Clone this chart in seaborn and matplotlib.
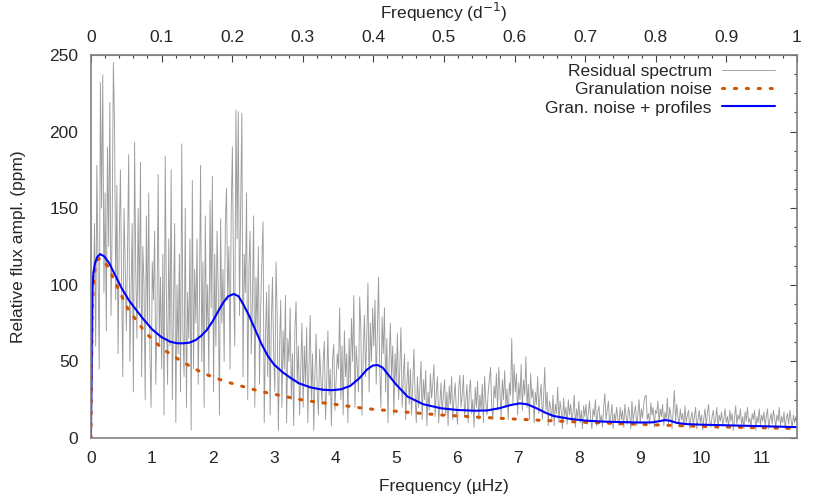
import numpy as np
import pandas as pd
import matplotlib
matplotlib.use('Agg')
import matplotlib.pyplot as plt
from matplotlib.ticker import MultipleLocator, FixedLocator, FuncFormatter
import seaborn as sns

# frequency range of the plot (1 d^-1 = 11.574 uHz)
f_max = 11.574

# residual amplitude spectrum (ppm), evenly spaced from 0 to f_max
residual = [
    0, 30, 85, 140, 60, 178, 110, 45, 232, 150, 237, 95, 160, 70, 190, 125, 219, 80, 140, 245, 204, 90, 165, 55, 130, 175, 100, 40, 150, 115,
    70, 120, 185, 50, 95, 140, 30, 193, 110, 65, 150, 85, 180, 40, 125, 100, 25, 145, 75, 160, 55, 20, 115, 90, 135, 35, 80, 172, 60, 105,
    45, 120, 15, 184, 90, 35, 130, 60, 175, 25, 80, 140, 10, 100, 55, 120, 30, 192, 70, 40, 150, 20, 95, 65, 130, 5, 168, 45, 110, 75,
    130, 35, 90, 178, 50, 115, 20, 145, 70, 100, 40, 155, 85, 171, 30, 120, 60, 135, 95, 15, 143, 75, 110, 50, 140, 163, 90, 125, 45, 150,
    190, 100, 60, 214, 130, 213, 80, 150, 212, 40, 120, 95, 160, 25, 110, 135, 55, 90, 145, 20, 105, 70, 125, 35, 85, 115, 141, 10, 65, 95,
    40, 100, 15, 75, 105, 55, 30, 115, 80, 5, 60, 90, 20, 70, 45, 93, 10, 65, 50, 85, 25, 55, 8, 70, 89, 35, 60, 15, 45, 75,
    20, 60, 35, 72, 10, 48, 80, 25, 55, 5, 42, 68, 30, 15, 58, 40, 22, 50, 63, 12, 35, 70, 28, 45, 8, 52, 61, 18, 38, 55,
    45, 85, 25, 60, 15, 70, 40, 55, 10, 65, 35, 78, 50, 93, 20, 60, 45, 30, 92, 70, 15, 55, 80, 40, 65, 101, 30, 75, 50, 85,
    60, 90, 35, 70, 105, 45, 20, 79, 55, 85, 30, 65, 10, 50, 75, 40, 60, 15, 55, 35, 68, 25, 45, 72, 20, 40, 55, 12, 35, 50,
    22, 45, 15, 35, 58, 28, 10, 40, 20, 32, 50, 12, 38, 25, 44, 8, 30, 18, 42, 26, 35, 48, 14, 30, 40, 10, 22, 36, 16, 28,
    38, 15, 30, 8, 34, 22, 40, 12, 26, 36, 18, 9, 32, 41, 20, 28, 41, 14, 24, 35, 10, 30, 38, 16, 25, 7, 33, 20, 37, 12,
    28, 18, 35, 10, 40, 24, 15, 30, 38, 46, 20, 12, 34, 26, 42, 18, 46, 30, 14, 38, 25, 44, 20, 32, 12, 36, 28, 65, 22, 48,
    30, 42, 15, 36, 25, 48, 18, 38, 28, 53, 20, 35, 12, 42, 26, 32, 10, 30, 22, 40, 16, 28, 35, 12, 26, 46, 18, 30, 8, 24,
    20, 12, 28, 8, 22, 16, 33, 10, 24, 18, 6, 26, 14, 20, 9, 25, 15, 22, 11, 17, 28, 7, 19, 13, 24, 10, 18, 6, 21, 14,
    22, 9, 16, 24, 12, 6, 19, 14, 25, 8, 17, 21, 10, 15, 7, 20, 29, 12, 18, 24, 9, 14, 22, 6, 16, 11, 20, 13, 8, 20,
    12, 18, 7, 22, 14, 9, 20, 16, 6, 24, 11, 17, 21, 8, 15, 25, 10, 19, 13, 22, 27, 28, 12, 16, 9, 23, 15, 20, 7, 18,
    16, 24, 10, 19, 14, 22, 8, 17, 12, 26, 9, 20, 15, 6, 18, 31, 11, 22, 14, 8, 19, 12, 16, 7, 21, 10, 15, 18, 6, 13,
    17, 9, 14, 20, 6, 12, 18, 10, 15, 5, 13, 19, 8, 16, 22, 11, 7, 14, 18, 9, 12, 20, 6, 15, 11, 17, 8, 13, 19, 10,
    14, 7, 18, 11, 16, 5, 13, 21, 9, 15, 12, 19, 8, 14, 6, 17, 11, 20, 10, 13, 7, 16, 12, 18, 5, 14, 10, 19, 8, 15,
    11, 17, 8, 14, 19, 6, 12, 16, 9, 18, 13, 7, 15, 11, 20, 8, 14, 10, 17, 6, 13, 16, 9, 18, 12, 7, 15, 10, 14, 11,
]
residual_freq = np.linspace(0, f_max, len(residual))

# granulation noise model
gran_freq = [0, 0.005, 0.01, 0.02, 0.04, 0.07, 0.12, 0.18, 0.285, 0.45, 0.61, 0.84,
             0.965, 1.18, 1.51, 1.84, 2.18, 2.4, 2.75, 3.14, 3.52, 3.99, 4.53, 5.19,
             5.74, 6.4, 7.03, 8.12, 9.0, 10.1, 11.4, 11.574]
gran_ampl = [0, 25, 50, 80, 100, 112, 117, 117, 111.4, 97, 84, 71.6,
             66, 58, 49.4, 42.2, 37.2, 34.6, 30.7, 27.4, 24.4, 22, 19.1, 16.8,
             15, 13.5, 12.2, 10.2, 8.9, 7.4, 6.3, 6.2]

# granulation noise + Lorentzian profiles
fit_freq = [0, 0.01, 0.02, 0.04, 0.066, 0.1, 0.15, 0.22, 0.3, 0.4, 0.5, 0.62, 0.72,
            0.85, 1.0, 1.15, 1.3, 1.42, 1.52, 1.62, 1.72, 1.81, 1.9, 2.0, 2.09, 2.17,
            2.25, 2.34, 2.42, 2.5, 2.59, 2.7, 2.8, 2.9, 3.0, 3.14, 3.28, 3.41, 3.6,
            3.8, 3.95, 4.1, 4.25, 4.4, 4.52, 4.62, 4.7, 4.78, 4.88, 5.0, 5.19, 5.45,
            5.74, 6.0, 6.29, 6.5, 6.7, 6.88, 7.03, 7.15, 7.3, 7.45, 7.58, 7.85, 8.12,
            8.4, 8.67, 9.0, 9.2, 9.32, 9.41, 9.5, 9.6, 9.75, 10.0, 10.4, 11.0, 11.574]
fit_ampl = [0, 55, 96, 108, 114, 118, 120, 118.5, 114, 106, 98, 90, 84.7,
            78, 71, 66, 62.8, 61.8, 61.8, 62.3, 64, 66.8, 70.5, 76.5, 83, 88.5,
            92.5, 94, 92.5, 87, 80, 70, 61, 53.5, 48, 43, 39, 35.7, 33,
            31.5, 31.2, 31.8, 34, 39, 44.5, 47.3, 47.6, 46, 41, 35, 27, 22,
            19.4, 18.3, 17.8, 18, 19.5, 21.5, 22.6, 22, 19.5, 16.5, 14.4, 12.5, 11.3,
            10.7, 10.4, 10.1, 10.2, 11, 11.7, 11.2, 9.9, 9.1, 8.7, 8.3, 7.7, 7.1]

top_ticks = [0, 0.1, 0.2, 0.3, 0.4, 0.5, 0.6, 0.7, 0.8, 0.9, 1]

df_res = pd.DataFrame({'freq': residual_freq, 'ampl': residual})
df_gran = pd.DataFrame({'freq': gran_freq, 'ampl': gran_ampl})
df_fit = pd.DataFrame({'freq': fit_freq, 'ampl': fit_ampl})

sns.set_style('white')
plt.rcParams['font.family'] = ['Liberation Sans', 'DejaVu Sans']
plt.rcParams['font.size'] = 12.5

fig = plt.figure(figsize=(8.3, 4.98), dpi=100)
ax = fig.add_axes([0.1096, 0.1205, 0.8506, 0.7691])

sns.lineplot(data=df_res, x='freq', y='ampl', ax=ax, color='#9c9c9c', lw=0.65,
             estimator=None, sort=False, label='Residual spectrum')
sns.lineplot(data=df_gran, x='freq', y='ampl', ax=ax, color='#d35400', lw=2.2,
             estimator=None, sort=False, label='Granulation noise',
             linestyle=(0, (0.7, 3.2)), dash_capstyle='round')
sns.lineplot(data=df_fit, x='freq', y='ampl', ax=ax, color='#0000ff', lw=1.5,
             estimator=None, sort=False, label='Gran. noise + profiles')

ax.set_xlim(0, f_max)
ax.set_ylim(0, 250)
ax.xaxis.set_major_locator(MultipleLocator(1))
ax.xaxis.set_minor_locator(MultipleLocator(0.2))
ax.yaxis.set_major_locator(MultipleLocator(50))
ax.yaxis.set_minor_locator(MultipleLocator(12.5))

for s in ax.spines.values():
    s.set_color('#808080')
    s.set_linewidth(1.2)
ax.tick_params(which='both', direction='in', color='#404040', right=True, top=False,
               labelsize=12.5)
ax.tick_params(which='major', length=4.8, width=0.8)
ax.tick_params(which='minor', length=2.4, width=0.8)
ax.tick_params(axis='x', which='major', pad=9.5)
ax.tick_params(axis='y', which='major', pad=9)
ax.set_xlabel('Frequency (µHz)', labelpad=9)
ax.set_ylabel('Relative flux ampl. (ppm)', labelpad=17)

# top axis in cycles per day
top = ax.secondary_xaxis('top', functions=(lambda f: f / f_max, lambda d: d * f_max))
top.xaxis.set_major_locator(FixedLocator(top_ticks))
top.xaxis.set_minor_locator(MultipleLocator(0.02))
top.xaxis.set_major_formatter(FuncFormatter(lambda v, p: '%g' % round(v, 3)))
top.tick_params(which='both', direction='in', color='#404040', labelsize=12.5)
top.tick_params(which='major', length=4.8, width=0.8, pad=7)
top.tick_params(which='minor', length=2.4, width=0.8)
top.spines['top'].set_color('#808080')
top.set_xlabel('Frequency (d$^{-1}$)', labelpad=8)

ax.legend(loc='upper right', bbox_to_anchor=(0.979, 0.995), borderaxespad=0,
          frameon=False, markerfirst=False, handlelength=3.05, handletextpad=0.6,
          labelspacing=0.18, fontsize=12.5)

fig.savefig('out.png', dpi=100)
